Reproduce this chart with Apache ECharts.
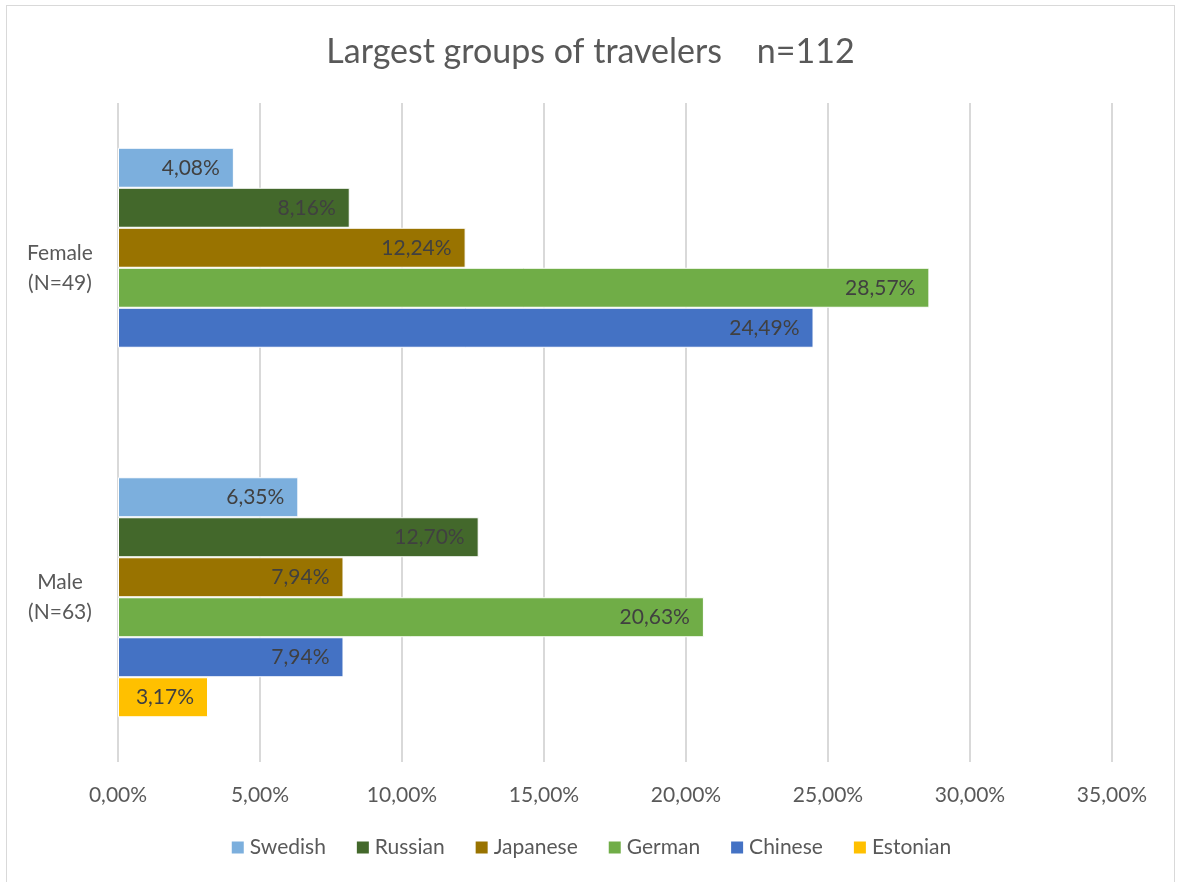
<!DOCTYPE html>
<html>
<head>
<meta charset="utf-8">
<script src="https://cdn.jsdelivr.net/npm/echarts@6/dist/echarts.min.js"></script>
<style>
  html, body { margin: 0; padding: 0; background: #fff; overflow: hidden; }
  #chart { width: 1181px; height: 882px; position: absolute; left: 0; top: 0; }
  #frame { position: absolute; left: 6px; top: 5px; width: 1169px; height: 900px;
           border: 1.5px solid #d9d9d9; box-sizing: border-box; pointer-events: none; }
</style>
</head>
<body>
<div id="chart"></div>
<div id="frame"></div>
<script>
// Gender groups (top to bottom)
const categories = ['Female\n(N=49)', 'Male\n(N=63)'];

// Share of travelers by nationality, in percent
const swedish  = [4.08, 6.35];
const russian  = [8.16, 12.70];
const japanese = [12.24, 7.94];
const german   = [28.57, 20.63];
const chinese  = [24.49, 7.94];
const estonian = [null, 3.17];

const xTicks = { min: 0, max: 35, interval: 5 };

const seriesDefs = [
  { name: 'Swedish',  data: swedish,  color: '#7cafdd' },
  { name: 'Russian',  data: russian,  color: '#43682b' },
  { name: 'Japanese', data: japanese, color: '#997300' },
  { name: 'German',   data: german,   color: '#70ad47' },
  { name: 'Chinese',  data: chinese,  color: '#4472c4' },
  { name: 'Estonian', data: estonian, color: '#ffc000' }
];

const font = 'Lato, "Open Sans", sans-serif';
const fmtPct = v => v.toFixed(2).replace('.', ',') + '%';

const chart = echarts.init(document.getElementById('chart'), null, { renderer: 'canvas' });

chart.setOption({
  backgroundColor: '#ffffff',
  animation: false,
  title: {
    text: 'Largest groups of travelers    n=112',
    left: 'center',
    top: 30,
    textStyle: { fontFamily: font, fontSize: 34, fontWeight: 'normal', color: '#595959' }
  },
  legend: {
    bottom: 19,
    left: 'center',
    itemWidth: 14,
    itemHeight: 14,
    itemGap: 29,
    icon: 'rect',
    textStyle: { fontFamily: font, fontSize: 21, color: '#595959' },
    data: seriesDefs.map(s => s.name)
  },
  grid: { left: 118, right: 69, top: 103, bottom: 120, containLabel: false },
  xAxis: {
    type: 'value',
    min: xTicks.min,
    max: xTicks.max,
    interval: xTicks.interval,
    axisLine: { show: false },
    axisTick: { show: false },
    splitLine: { show: true, lineStyle: { color: '#d9d9d9', width: 2 } },
    axisLabel: {
      fontFamily: font, fontSize: 21, color: '#595959', margin: 23,
      formatter: v => fmtPct(v)
    }
  },
  yAxis: {
    type: 'category',
    inverse: true,
    data: categories,
    axisLine: { show: false },
    axisTick: { show: false },
    axisLabel: {
      fontFamily: font, fontSize: 21, color: '#595959',
      align: 'center', margin: 58, lineHeight: 30
    }
  },
  series: seriesDefs.map(s => ({
    name: s.name,
    type: 'bar',
    data: s.data,
    barWidth: 40,
    barGap: '0%',
    itemStyle: { color: s.color, borderColor: '#ffffff', borderWidth: 1 },
    label: {
      show: true,
      position: 'insideRight',
      distance: 14,
      fontFamily: font,
      fontSize: 21,
      color: '#404040',
      formatter: p => (p.value == null ? '' : fmtPct(p.value))
    }
  }))
});
</script>
</body>
</html>
